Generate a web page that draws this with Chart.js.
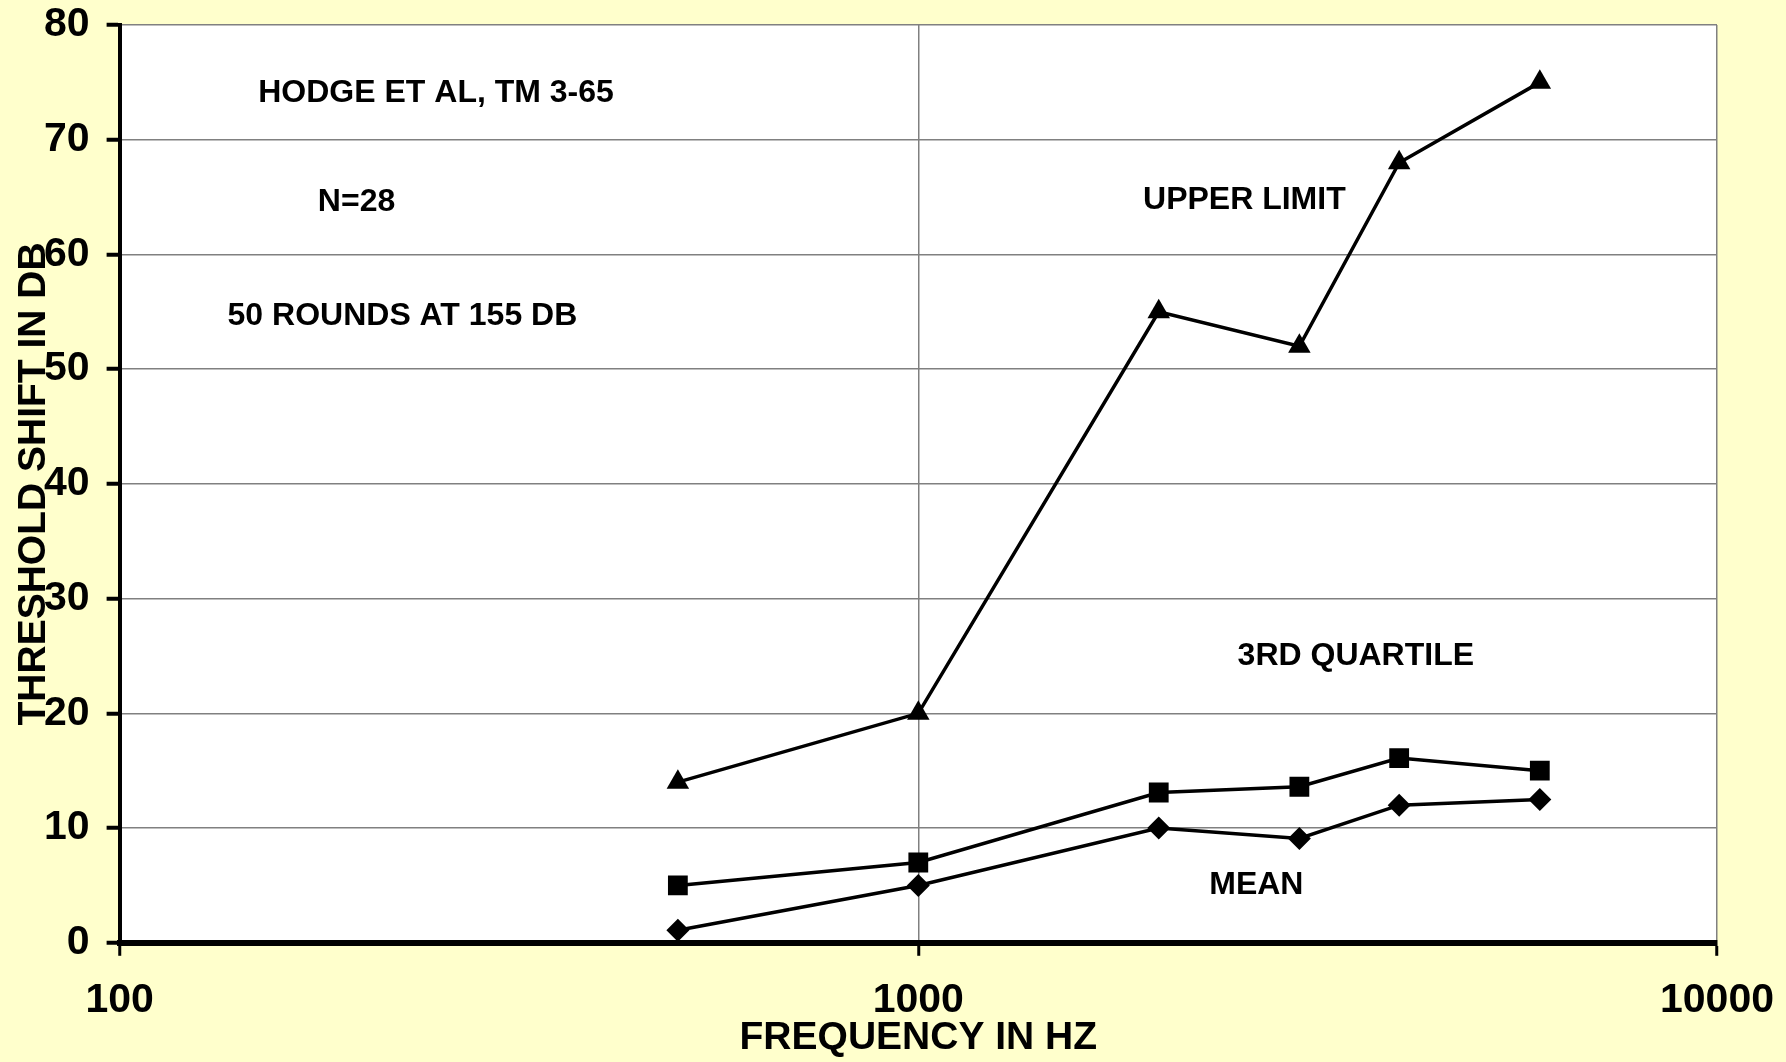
<!DOCTYPE html>
<html>
<head>
<meta charset="utf-8">
<script src="https://cdn.jsdelivr.net/npm/chart.js@4.4.1/dist/chart.umd.min.js"></script>
<style>
  html, body { margin: 0; padding: 0; background: #FFFFCC; }
  #grafica { display: block; }
</style>
</head>
<body>
<canvas id="grafica" width="1786" height="1062"></canvas>
<script>
// datos
const frecuencias = [500, 1000, 2000, 3000, 4000, 6000];
const limiteSuperior = [14, 20, 55, 52, 68, 75];
const tercerCuartil = [5, 7, 13.1, 13.6, 16.1, 15];
const media = [1.1, 5, 10, 9.1, 12, 12.5];

const ticksX = [100, 1000, 10000];
const ticksY = [0, 10, 20, 30, 40, 50, 60, 70, 80];

// textos dentro de la gráfica (posición en unidades de datos)
const notasTexto = ['HODGE ET AL, TM 3-65', 'N=28', '50 ROUNDS AT 155 DB', 'UPPER LIMIT', '3RD QUARTILE', 'MEAN'];
const notasFrec = [249, 198, 226, 2560, 3530, 2650];
const notasValor = [74.1, 64.6, 54.6, 64.7, 25.0, 5.0];

const tituloX = 'FREQUENCY IN HZ';
const tituloY = 'THRESHOLD SHIFT IN DB';

const FUENTE = '"Liberation Sans", Arial, sans-serif';

function puntos(valores) {
    return frecuencias.map((f, i) => ({ x: f, y: valores[i] }));
}

// fondo blanco del área de trazado, textos y títulos de ejes
const pluginFondo = {
    id: 'fondo',
    beforeDraw(chart) {
        const a = chart.chartArea;
        const ctx = chart.ctx;
        ctx.save();
        ctx.fillStyle = '#FFFFFF';
        ctx.fillRect(a.left, a.top, a.right - a.left, a.bottom - a.top);
        ctx.restore();
    },
    afterDraw(chart) {
        const ctx = chart.ctx;
        const a = chart.chartArea;
        const sx = chart.scales.x;
        const sy = chart.scales.y;
        ctx.save();
        ctx.fillStyle = '#000000';
        ctx.textAlign = 'center';
        ctx.textBaseline = 'middle';
        ctx.font = 'bold 32px ' + FUENTE;
        notasTexto.forEach((t, i) => {
            ctx.fillText(t, sx.getPixelForValue(notasFrec[i]), sy.getPixelForValue(notasValor[i]));
        });
        // títulos de ejes
        ctx.font = 'bold 39px ' + FUENTE;
        ctx.fillText(tituloX, (a.left + a.right) / 2, 1038);
        ctx.translate(34, (a.top + a.bottom) / 2);
        ctx.rotate(-Math.PI / 2);
        ctx.fillText(tituloY, 0, 0);
        ctx.restore();
    }
};

function generarGrafica() {
    const ctx = document.getElementById('grafica').getContext('2d');

    const estiloSerie = (label, valores, forma, radio) => ({
        label: label,
        data: puntos(valores),
        borderColor: '#000000',
        backgroundColor: '#000000',
        borderWidth: 3.5,
        pointStyle: forma,
        pointRadius: radio,
        pointBorderWidth: 0,
        tension: 0,
    });

    new Chart(ctx, {
        type: 'line',
        data: {
            datasets: [
                estiloSerie('UPPER LIMIT', limiteSuperior, 'triangle', 13),
                estiloSerie('3RD QUARTILE', tercerCuartil, 'rect', 14),
                estiloSerie('MEAN', media, 'rectRot', 11.5),
            ],
        },
        options: {
            responsive: false,
            animation: false,
            devicePixelRatio: 1,
            layout: {
                padding: { left: 27, right: 69, top: 25, bottom: 17 },
            },
            plugins: {
                legend: { display: false },
                tooltip: { enabled: false },
            },
            scales: {
                x: {
                    type: 'logarithmic',
                    min: 100,
                    max: 10000,
                    afterBuildTicks: (eje) => {
                        eje.ticks = ticksX.map(v => ({ value: v }));
                    },
                    afterFit: (eje) => {
                        eje.paddingLeft = 0;
                        eje.paddingRight = 0;
                    },
                    ticks: {
                        color: '#000000',
                        font: { family: FUENTE, size: 41, weight: 'bold' },
                        padding: 20,
                        maxRotation: 0,
                        autoSkip: false,
                        callback: (v) => String(v),
                    },
                    grid: {
                        color: '#808080',
                        lineWidth: 1.5,
                        tickColor: '#000000',
                        tickWidth: 3,
                        tickLength: 13,
                    },
                    border: { color: '#000000', width: 6 },
                },
                y: {
                    min: 0,
                    max: 80,
                    afterBuildTicks: (eje) => {
                        eje.ticks = ticksY.map(v => ({ value: v }));
                    },
                    afterFit: (eje) => {
                        eje.paddingTop = 0;
                        eje.paddingBottom = 0;
                    },
                    ticks: {
                        color: '#000000',
                        font: { family: FUENTE, size: 41, weight: 'bold' },
                        padding: 17,
                    },
                    grid: {
                        color: '#808080',
                        lineWidth: 1.5,
                        tickColor: '#000000',
                        tickWidth: 4,
                        tickLength: 13,
                    },
                    border: { color: '#000000', width: 4 },
                },
            },
        },
        plugins: [pluginFondo],
    });
}

document.addEventListener('DOMContentLoaded', generarGrafica);
</script>
</body>
</html>
